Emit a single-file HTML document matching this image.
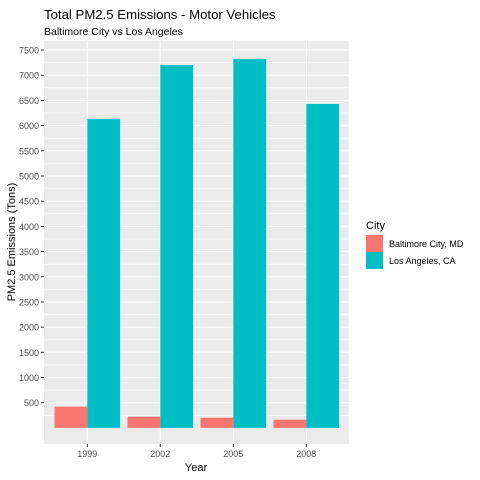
<!DOCTYPE html>
<html><head><meta charset="utf-8"><style>
body{margin:0;background:#fff}
svg{display:block;font-family:"Liberation Sans",sans-serif}
</style></head><body>
<svg id="c" width="480" height="480">
<text x="44" y="19" font-size="13.2" fill="#000">Total PM2.5 Emissions - Motor Vehicles</text>
<text x="44" y="35" font-size="10.5" fill="#000">Baltimore City vs Los Angeles</text>
<rect x="44" y="41" width="305" height="403" fill="#ebebeb"/>
<g id="grid"></g><g id="bars"></g><g id="axes"></g>
<text x="196" y="471" font-size="11" text-anchor="middle">Year</text>
<text transform="translate(15,242) rotate(-90)" font-size="11" text-anchor="middle">PM2.5 Emissions (Tons)</text>
<text x="366" y="229" font-size="11">City</text>
<rect x="366" y="235" width="17" height="17" fill="#f8766d"/>
<rect x="366" y="252" width="17" height="17" fill="#00bfc4"/>
<text x="389" y="247" font-size="9">Baltimore City, MD</text>
<text x="389" y="264" font-size="9">Los Angeles, CA</text>
</svg>
<script>
const years=["1999","2002","2005","2008"];
const baltimore=[421,222,203,163];
const losAngeles=[6131,7203,7322,6430];
const yTicks=[500,1000,1500,2000,2500,3000,3500,4000,4500,5000,5500,6000,6500,7000,7500];
const NS="http://www.w3.org/2000/svg";
const y0=427.9, perUnit=25.19/500;
function yS(v){return y0-v*perUnit;}
function xS(i){return 87.3+i*73;}
const bw=32.8;
function mk(tag,attrs,parent){const e=document.createElementNS(NS,tag);for(const k in attrs)e.setAttribute(k,attrs[k]);document.getElementById(parent).appendChild(e);return e;}
for(let v=250;v<=7750;v+=500){const y=yS(v);if(y<41)continue;
const l=mk('line',{x1:44,x2:349,y1:y,y2:y,stroke:'#fff','stroke-width':0.55},'grid');

}
yTicks.forEach(v=>{const y=yS(v);
const l=mk('line',{x1:44,x2:349,y1:y,y2:y,stroke:'#fff','stroke-width':1.1},'grid');


const t=mk('line',{x1:41,x2:44,y1:y,y2:y,stroke:'#333','stroke-width':1},'axes');


const tx=mk('text',{x:39,y:y+3.5,'font-size':9,'text-anchor':'end',fill:'#4d4d4d'},'axes');
tx.textContent=v;

});
years.forEach((yr,i)=>{const x=xS(i);
const l=mk('line',{x1:x,x2:x,y1:41,y2:444,stroke:'#fff','stroke-width':1.1},'grid');


const b1=mk('rect',{x:x-bw,y:yS(baltimore[i]),width:bw,height:y0-yS(baltimore[i]),fill:'#f8766d'},'bars');


const b2=mk('rect',{x:x,y:yS(losAngeles[i]),width:bw,height:y0-yS(losAngeles[i]),fill:'#00bfc4'},'bars');


const t=mk('line',{x1:x,x2:x,y1:444,y2:447,stroke:'#333','stroke-width':1},'axes');


const tx=mk('text',{x:x,y:457,'font-size':9,'text-anchor':'middle',fill:'#4d4d4d'},'axes');
tx.textContent=yr;

});
</script>
</body></html>
